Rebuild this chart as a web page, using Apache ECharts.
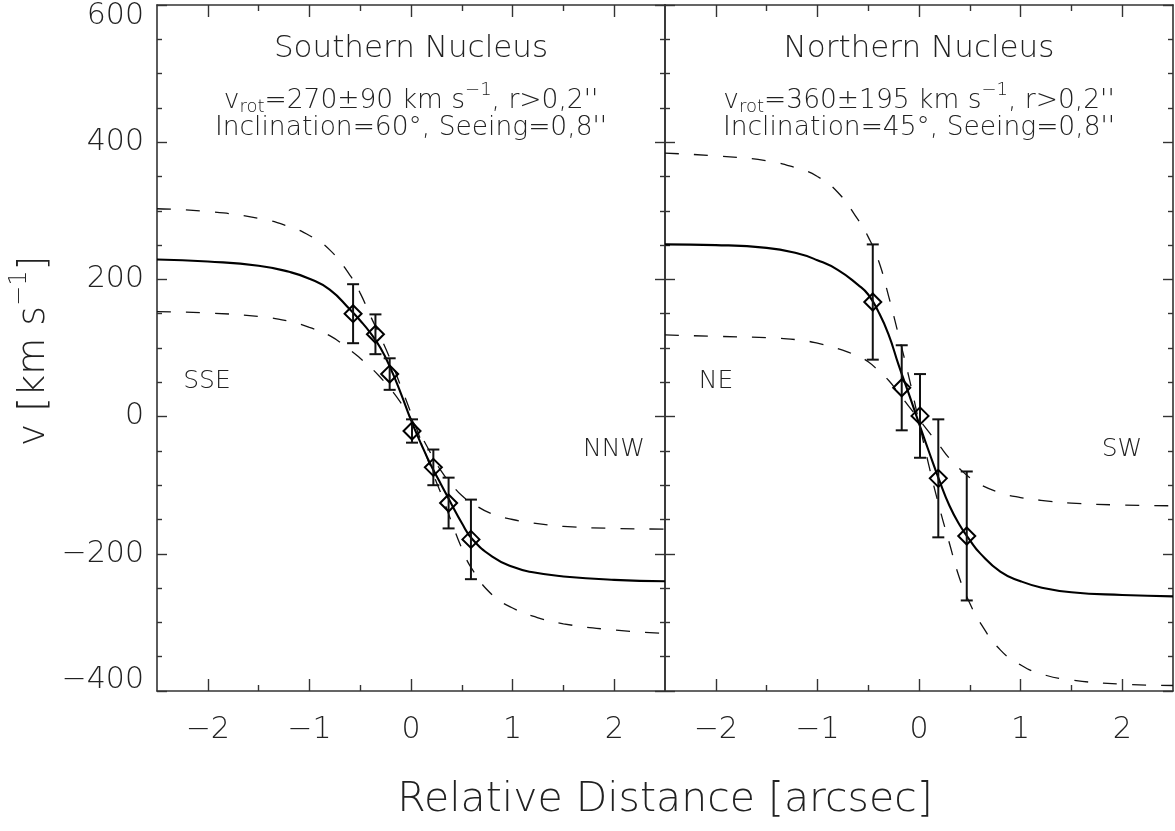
<!DOCTYPE html>
<html>
<head>
<meta charset="utf-8">
<script src="https://cdn.jsdelivr.net/npm/echarts@6/dist/echarts.min.js"></script>
<style>
html,body{margin:0;padding:0;background:#fff;}
#chart{width:1175px;height:831px;}
</style>
</head>
<body>
<div id="chart"></div>
<script>
// ---------- axis ticks ----------
const xMajorTicks = [-2, -1, 0, 1, 2];
const xMinorTicks = [-1.5, -0.5, 0.5, 1.5];
const yTicks = [-400, -200, 0, 200, 400, 600];

// ---------- Southern nucleus (left panel) ----------
const sPointX = [-0.57, -0.35, -0.21, 0.01, 0.22, 0.37, 0.59];
const sPointV = [150, 120, 62, -21, -74, -126, -179];
const sPointErr = [43, 29, 23, 17, 26, 37, 58];

const modelX = [-2.5, -2.0, -1.5, -1.2, -1.0, -0.8, -0.6, -0.5, -0.4, -0.3, -0.2, -0.1, 0,
                0.1, 0.2, 0.3, 0.4, 0.5, 0.6, 0.8, 1.0, 1.2, 1.5, 2.0, 2.5];
const sModel     = [229, 226, 220, 211, 201, 185, 156, 140, 122, 100, 70, 34, -5,
                    -40, -72, -100, -128, -155, -178, -204, -219, -227, -233, -238, -240];
const sModelHigh = [303, 299, 289, 277, 264, 243, 206, 180, 147, 116, 82, 44, 5,
                    -36, -77, -114, -154, -192, -222, -260, -279, -291, -302, -311, -316];
const sModelLow  = [153, 151, 146, 139, 130, 118, 97, 85, 72, 57, 40, 20, -3,
                    -28, -55, -80, -99, -115, -126, -142, -150, -155, -160, -163, -164];

// ---------- Northern nucleus (right panel) ----------
const nPointX = [-0.455, -0.17, 0.01, 0.19, 0.47];
const nPointV = [167, 42, 1, -90, -174];
const nPointErr = [84, 62, 61, 86, 94];

const nModel     = [251, 250, 246, 238, 228, 214, 192, 178, 153, 120, 75, 33, -10,
                    -52, -93, -130, -158, -180, -199, -226, -240, -249, -256, -260, -262];
const nModelHigh = [384, 380, 373, 362, 350, 327, 287, 262, 228, 176, 118, 58, -8,
                    -73, -132, -185, -236, -272, -300, -340, -362, -375, -384, -390, -392];
const nModelLow  = [119, 117, 115, 112, 107, 99, 88, 80, 67, 53, 34, 15, -4,
                    -23, -42, -61, -76, -89, -99, -111, -118, -122, -126, -129, -130];

// ---------- text ----------
const leftTitle = 'Southern Nucleus';
const rightTitle = 'Northern Nucleus';
const leftVrot = '=270±90 km s';
const rightVrot = '=360±195 km s';
const leftIncl = 'Inclination=60°, Seeing=0,8\'\'';
const rightIncl = 'Inclination=45°, Seeing=0,8\'\'';

const FONT = "'DejaVu Sans', sans-serif";
const FW = 200;
const TXT = '#222';
const AX = '#333';

function minus(v) { return String(v).replace('-', '\u2212'); }
function pairs(xs, vs) { return xs.map((x, i) => [x, vs[i]]); }

const chart = echarts.init(document.getElementById('chart'), null, {renderer: 'canvas'});

const grids = [
  {left: 157, top: 5, width: 508, height: 686},
  {left: 665, top: 5, width: 508, height: 686}
];

function xAxesFor(g) {
  const base = {type: 'value', gridIndex: g, min: -2.5, max: 2.5, splitLine: {show: false}};
  return [
    Object.assign({}, base, {position: 'bottom',
      axisLine: {show: true, onZero: false, lineStyle: {color: AX, width: 1.6}},
      axisTick: {show: true, inside: true, length: 12, customValues: xMajorTicks, lineStyle: {color: AX, width: 1.4}},
      axisLabel: {show: true, customValues: xMajorTicks, margin: 24, fontSize: 30, fontFamily: FONT, fontWeight: FW, color: TXT,
                  formatter: v => minus(v)}}),
    Object.assign({}, base, {position: 'top',
      axisLine: {show: true, onZero: false, lineStyle: {color: AX, width: 1.6}},
      axisTick: {show: true, inside: true, length: 12, customValues: xMajorTicks, lineStyle: {color: AX, width: 1.4}},
      axisLabel: {show: false}}),
    Object.assign({}, base, {position: 'bottom',
      axisLine: {show: false, onZero: false},
      axisTick: {show: true, inside: true, length: 6, customValues: xMinorTicks, lineStyle: {color: AX, width: 1.4}},
      axisLabel: {show: false}}),
    Object.assign({}, base, {position: 'top',
      axisLine: {show: false, onZero: false},
      axisTick: {show: true, inside: true, length: 6, customValues: xMinorTicks, lineStyle: {color: AX, width: 1.4}},
      axisLabel: {show: false}})
  ];
}

function yAxisFor(g, pos, labels) {
  return {
    type: 'value', gridIndex: g, position: pos,
    min: yTicks[0], max: yTicks[yTicks.length - 1], interval: 200,
    splitLine: {show: false},
    axisLine: {show: true, onZero: false, lineStyle: {color: AX, width: 1.6}},
    axisTick: {show: true, inside: true, length: 10, lineStyle: {color: AX, width: 1.4}},
    minorTick: {show: true, splitNumber: 4, length: 5, lineStyle: {color: AX, width: 1.4}},
    axisLabel: labels ? {
      show: true, margin: 13, fontSize: 30, fontFamily: FONT, fontWeight: FW, color: TXT,
      formatter: v => v === yTicks[yTicks.length - 1] ? '{t|' + minus(v) + '}'
                    : v === yTicks[0] ? '{b|' + minus(v) + '}' : minus(v),
      rich: {
        t: {padding: [22, 0, 0, 0], fontSize: 30, fontFamily: FONT, fontWeight: FW, color: TXT},
        b: {padding: [0, 0, 22, 0], fontSize: 30, fontFamily: FONT, fontWeight: FW, color: TXT}
      }
    } : {show: false}
  };
}

function errSeries(xs, vs, es, xi, yi) {
  return {
    type: 'custom', xAxisIndex: xi, yAxisIndex: yi, z: 4,
    data: xs.map((x, i) => [x, vs[i] - es[i], vs[i] + es[i]]),
    encode: {x: 0, y: [1, 2]},
    renderItem: (params, api) => {
      const x = api.value(0);
      const lo = api.coord([x, api.value(1)]);
      const hi = api.coord([x, api.value(2)]);
      const w = 6;
      const st = {stroke: '#111', lineWidth: 2};
      return {type: 'group', children: [
        {type: 'line', shape: {x1: hi[0], y1: hi[1], x2: lo[0], y2: lo[1]}, style: st},
        {type: 'line', shape: {x1: hi[0] - w, y1: hi[1], x2: hi[0] + w, y2: hi[1]}, style: st},
        {type: 'line', shape: {x1: lo[0] - w, y1: lo[1], x2: lo[0] + w, y2: lo[1]}, style: st}
      ]};
    }
  };
}

function lineSeries(xs, vs, xi, yi, dashed) {
  return {
    type: 'line', xAxisIndex: xi, yAxisIndex: yi, data: pairs(xs, vs),
    showSymbol: false, smooth: 0.5, silent: true, z: 2,
    lineStyle: dashed ? {color: '#111', width: 1.3, type: [14, 15]} : {color: '#000', width: 2.1, type: 'solid'}
  };
}

function pointSeries(xs, vs, xi, yi) {
  return {
    type: 'scatter', xAxisIndex: xi, yAxisIndex: yi, data: pairs(xs, vs),
    symbol: 'diamond', symbolSize: 17, z: 5,
    itemStyle: {color: 'rgba(0,0,0,0)', borderColor: '#000', borderWidth: 2, opacity: 1}
  };
}

function tok(size, pad) {
  const o = {fontSize: size, fontFamily: FONT, fontWeight: FW, fill: TXT, color: TXT};
  if (pad) o.padding = pad;
  return o;
}

function txt(x, y, text, size) {
  return {
    type: 'text', x: x, y: y, silent: true,
    style: {text: text, fill: TXT, fontSize: size, fontFamily: FONT, fontWeight: FW, align: 'center', verticalAlign: 'middle'}
  };
}

function vrotText(x, y, body) {
  return {
    type: 'text', x: x, y: y, silent: true,
    style: {
      text: '{n|v}{sub|rot}{n|' + body + '}{sup|\u22121}{n|, r>0,2\'\'}',
      align: 'center', verticalAlign: 'middle', fill: TXT, fontSize: 26.5, fontFamily: FONT, fontWeight: FW,
      rich: {n: tok(26.5), sub: tok(18, [12, 0, 0, 0]), sup: tok(18, [0, 0, 22, 0])}
    }
  };
}

const option = {
  animation: false,
  backgroundColor: '#fff',
  grid: grids,
  xAxis: xAxesFor(0).concat(xAxesFor(1)),
  yAxis: [yAxisFor(0, 'left', true), yAxisFor(0, 'right', false), yAxisFor(1, 'left', false), yAxisFor(1, 'right', false)],
  series: [
    lineSeries(modelX, sModelHigh, 0, 0, true),
    lineSeries(modelX, sModelLow, 0, 0, true),
    lineSeries(modelX, sModel, 0, 0, false),
    errSeries(sPointX, sPointV, sPointErr, 0, 0),
    pointSeries(sPointX, sPointV, 0, 0),
    lineSeries(modelX, nModelHigh, 4, 2, true),
    lineSeries(modelX, nModelLow, 4, 2, true),
    lineSeries(modelX, nModel, 4, 2, false),
    errSeries(nPointX, nPointV, nPointErr, 4, 2),
    pointSeries(nPointX, nPointV, 4, 2)
  ],
  graphic: [
    txt(411, 49, leftTitle, 31),
    txt(919, 49, rightTitle, 31),
    vrotText(411, 101, leftVrot),
    vrotText(919, 101, rightVrot),
    txt(411, 128, leftIncl, 26.5),
    txt(919, 128, rightIncl, 26.5),
    txt(207, 381, 'SSE', 25),
    txt(614, 449, 'NNW', 25),
    txt(716, 381, 'NE', 25),
    txt(1122, 449, 'SW', 25),
    txt(665, 800, 'Relative Distance [arcsec]', 41),
    {
      type: 'text', x: 34, y: 351, rotation: Math.PI / 2, silent: true,
      style: {
        text: '{n|v [km s}{sup|\u22121}{n|]}',
        align: 'center', verticalAlign: 'middle', fill: TXT, fontSize: 38, fontFamily: FONT, fontWeight: FW,
        rich: {n: tok(38), sup: tok(24, [0, 0, 28, 0])}
      }
    }
  ]
};

chart.setOption(option);
</script>
</body>
</html>
